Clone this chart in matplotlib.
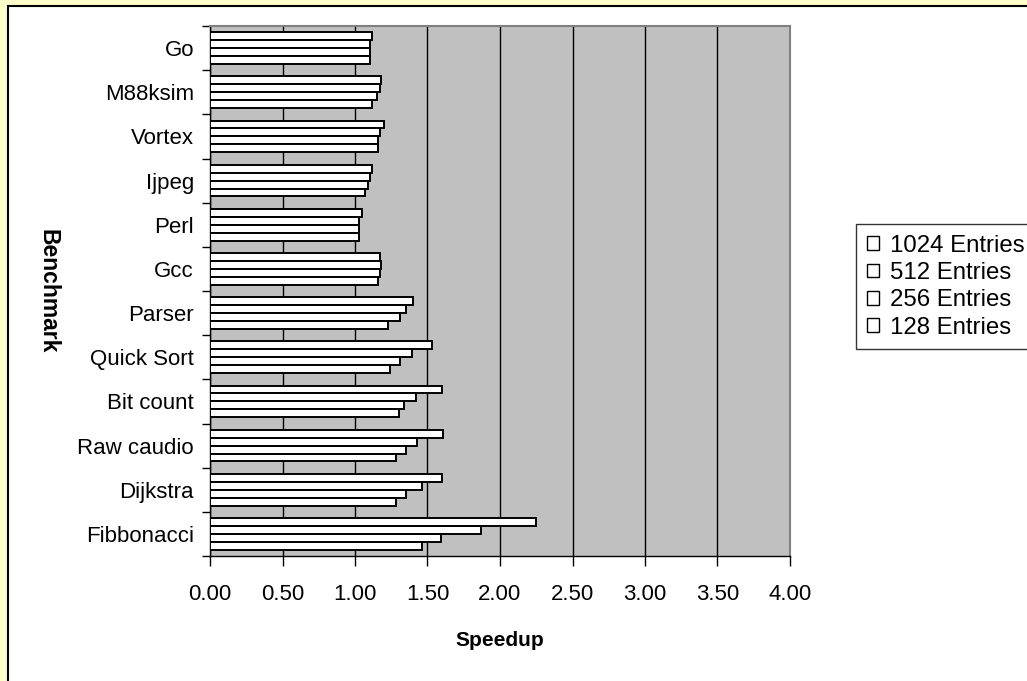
import numpy as np
import matplotlib.pyplot as plt
from matplotlib.patches import Patch, Rectangle

plt.rcParams['font.family'] = ['Liberation Sans', 'DejaVu Sans']

# benchmarks listed top to bottom as they appear on the chart
benchmarks = ["Go", "M88ksim", "Vortex", "Ijpeg", "Perl", "Gcc", "Parser",
              "Quick Sort", "Bit count", "Raw caudio", "Dijkstra", "Fibbonacci"]

# speedup for each predictor table size
entries_1024 = [1.12, 1.18, 1.20, 1.12, 1.05, 1.17, 1.40, 1.53, 1.60, 1.61, 1.60, 2.25]
entries_512 = [1.10, 1.17, 1.17, 1.10, 1.03, 1.18, 1.35, 1.39, 1.42, 1.43, 1.46, 1.87]
entries_256 = [1.10, 1.15, 1.16, 1.09, 1.03, 1.17, 1.31, 1.31, 1.34, 1.35, 1.35, 1.59]
entries_128 = [1.10, 1.12, 1.16, 1.07, 1.03, 1.16, 1.23, 1.24, 1.30, 1.28, 1.28, 1.46]

series = [entries_1024, entries_512, entries_256, entries_128]
series_names = ["1024 Entries", "512 Entries", "256 Entries", "128 Entries"]

x_ticks = [0.0, 0.5, 1.0, 1.5, 2.0, 2.5, 3.0, 3.5, 4.0]

fig = plt.figure(figsize=(10.27, 6.81), dpi=100, facecolor="#FFFFCC")

# white chart area with a black frame inside the yellow page
fig.patches.append(Rectangle((8 / 1027, -0.05), 1.1, 1 - 6 / 681 + 0.05,
                             transform=fig.transFigure, facecolor="white",
                             edgecolor="black", linewidth=1.5, zorder=-10))

ax = fig.add_axes([210 / 1027, 1 - 556 / 681, 580 / 1027, 530 / 681])
ax.set_zorder(1)
ax.set_facecolor("#C0C0C0")

n = len(benchmarks)
# bottom category first so Go ends up on top
pos = np.arange(n)[::-1]
bar_h = 0.18
offsets = [1.5 * bar_h, 0.5 * bar_h, -0.5 * bar_h, -1.5 * bar_h]

for vals, off in zip(series, offsets):
    ax.barh(pos + off, vals, height=bar_h, color="white", edgecolor="black",
            linewidth=1.4, zorder=3)

ax.set_xlim(0, 4)
ax.set_ylim(-0.5, n - 0.5)

ax.set_xticks(x_ticks)
ax.set_xticklabels([f"{t:.2f}" for t in x_ticks], fontsize=16)
ax.tick_params(axis="x", length=7, width=1, pad=13, color="black")

ax.set_yticks(pos)
ax.set_yticklabels(benchmarks, fontsize=16)
ax.set_yticks(np.arange(n + 1) - 0.5, minor=True)
ax.tick_params(axis="y", which="major", length=0, pad=11.5)
ax.tick_params(axis="y", which="minor", length=6, width=1, color="black")

ax.grid(True, axis="x", color="black", linewidth=1, zorder=1)
ax.set_axisbelow(True)

for side in ["top", "right"]:
    ax.spines[side].set_color("#808080")
    ax.spines[side].set_linewidth(1.5)
for side in ["left", "bottom"]:
    ax.spines[side].set_color("black")
    ax.spines[side].set_linewidth(1)

ax.set_xlabel("Speedup", fontsize=15, fontweight="bold", labelpad=19)
fig.text(48 / 1027, 1 - 291 / 681, "Benchmark", rotation=-90, fontsize=16.5,
         fontweight="bold", ha="center", va="center")

handles = [Patch(facecolor="white", edgecolor="black", linewidth=1) for _ in series_names]
leg = fig.legend(handles, series_names, loc="upper left",
                 bbox_to_anchor=(856 / 1027, 1 - 224 / 681), fontsize=17.3,
                 frameon=True, fancybox=False, shadow=False, borderaxespad=0,
                 borderpad=0.45, handlelength=0.5, handleheight=0.5,
                 handletextpad=0.45, labelspacing=0.22)
leg.get_frame().set_edgecolor("black")
leg.get_frame().set_linewidth(1)

fig.savefig("out.png", dpi=100, facecolor=fig.get_facecolor())
